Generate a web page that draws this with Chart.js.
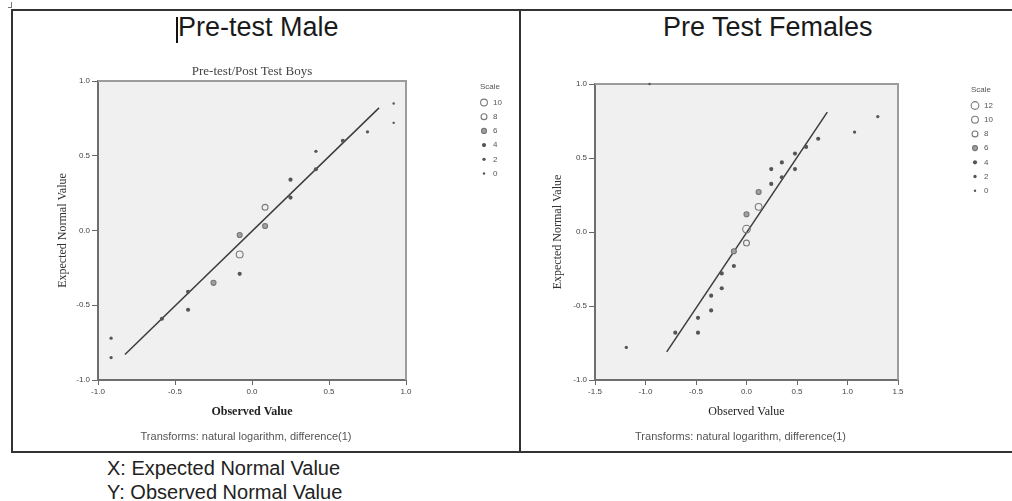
<!DOCTYPE html>
<html>
<head>
<meta charset="utf-8">
<script src="https://cdn.jsdelivr.net/npm/chart.js@4/dist/chart.umd.min.js"></script>
<style>
  html, body { margin: 0; padding: 0; background: #fff; }
  body { width: 1012px; height: 501px; position: relative; overflow: hidden;
         font-family: "Liberation Sans", Arial, sans-serif; color: #222; }
  .abs { position: absolute; }
  #frame { left: 11px; top: 9px; width: 1012px; height: 444px; box-sizing: border-box;
           border: 2px solid #333; border-right: none; }
  #divider { left: 519px; top: 9px; width: 2px; height: 444px; background: #333; }
  .panelTitle { font-size: 27px; line-height: 27px; white-space: nowrap; color: #1a1a1a; top: 14px; }
  .note { font-size: 20px; line-height: 20px; white-space: nowrap; color: #222; left: 107px; }
  canvas { position: absolute; }
</style>
</head>
<body>
<div id="frame" class="abs"></div>
<div id="divider" class="abs"></div>
<div class="abs" style="left:8px;top:7px;width:4px;height:1px;background:#777"></div>
<div class="abs" style="left:11px;top:2px;width:1px;height:6px;background:#777"></div>
<div class="abs" style="left:176px;top:17px;width:2px;height:26px;background:#111"></div>
<div class="abs panelTitle" style="left:178px">Pre-test Male</div>
<div class="abs panelTitle" style="left:663px">Pre Test Females</div>
<div class="abs note" style="top:458px">X: Expected Normal Value</div>
<div class="abs note" style="top:482px">Y: Observed Normal Value</div>

<canvas id="male" width="480" height="402" style="left:38px;top:50px"></canvas>
<canvas id="female" width="487" height="402" style="left:525px;top:50px"></canvas>

<script>
// ---- Pre-test male (boys) ----
const maleObserved = [0.92, 0.92, 0.75, 0.59, 0.415, 0.415, 0.25, 0.25, 0.085, 0.085,
                      -0.08, -0.08, -0.08, -0.25, -0.415, -0.415, -0.585, -0.915, -0.915];
const maleExpected = [0.85, 0.72, 0.66, 0.60, 0.53, 0.41, 0.34, 0.22, 0.155, 0.03,
                      -0.03, -0.16, -0.29, -0.35, -0.41, -0.53, -0.59, -0.72, -0.85];
const maleScale    = [0, 0, 2, 4, 2, 4, 4, 4, 8, 6, 6, 10, 4, 6, 4, 4, 4, 2, 2];
const maleLineX    = [-0.825, 0.825];
const maleLineY    = [-0.83, 0.82];
const maleKey      = [10, 8, 6, 4, 2, 0];
const maleXTicks   = [-1.0, -0.5, 0.0, 0.5, 1.0];

// ---- Pre-test females ----
const femaleObserved = [1.30, 1.07, 0.71, 0.59, 0.48, 0.48, 0.35, 0.35, 0.245, 0.245,
                        0.12, 0.12, 0.0, 0.0, 0.0, -0.125, -0.125, -0.245, -0.245,
                        -0.35, -0.35, -0.48, -0.48, -0.705, -1.19, -0.96];
const femaleExpected = [0.78, 0.675, 0.63, 0.575, 0.53, 0.425, 0.47, 0.37, 0.425, 0.325,
                        0.27, 0.17, 0.12, 0.02, -0.075, -0.13, -0.23, -0.28, -0.38,
                        -0.43, -0.53, -0.58, -0.68, -0.68, -0.78, 1.0];
const femaleScale    = [2, 2, 4, 4, 4, 4, 4, 4, 4, 4, 6, 10, 6, 12, 8, 6, 4, 4, 4,
                        4, 4, 4, 4, 4, 2, 0];
const femaleLineX    = [-0.79, 0.80];
const femaleLineY    = [-0.81, 0.81];
const femaleKey      = [12, 10, 8, 6, 4, 2, 0];
const femaleXTicks   = [-1.5, -1.0, -0.5, 0.0, 0.5, 1.0, 1.5];

const yTicks = [-1.0, -0.5, 0.0, 0.5, 1.0];
const yTitle = 'Expected Normal Value';
const xTitle = 'Observed Value';
const maleCaption = 'Pre-test/Post Test Boys';
const footNote = 'Transforms: natural logarithm, difference(1)';

const SANS = '"Liberation Sans", Arial, sans-serif';
const SERIF = '"Liberation Serif", "Times New Roman", serif';

// marker look for a given scale weight
function markRadius(w) { return 1.2 + w * 0.22; }
function markFill(w) { return w >= 8 ? 'rgba(255,255,255,0)' : (w >= 6 ? '#a0a0a0' : '#555'); }
function markStroke(w) { return w >= 8 ? '#7a7a7a' : (w >= 6 ? '#777' : '#555'); }
function markWidth(w) { return w >= 6 ? 1.1 : 0; }

function drawMark(ctx, x, y, w) {
  ctx.beginPath();
  ctx.arc(x, y, markRadius(w), 0, Math.PI * 2);
  ctx.fillStyle = markFill(w);
  ctx.fill();
  if (markWidth(w) > 0) {
    ctx.lineWidth = markWidth(w);
    ctx.strokeStyle = markStroke(w);
    ctx.stroke();
  }
}

// grey plot background, frame, caption, footnote and scale key
const plotDecor = {
  id: 'plotDecor',
  beforeDraw(chart, args, opts) {
    const a = chart.chartArea, c = chart.ctx;
    c.save();
    c.fillStyle = '#f0f0f0';
    c.fillRect(a.left, a.top, a.right - a.left, a.bottom - a.top);
    c.restore();
  },
  beforeDatasetsDraw(chart) {
    const a = chart.chartArea, c = chart.ctx;
    c.save();
    c.strokeStyle = '#9c9c9c';
    c.lineWidth = 2;
    c.beginPath();
    c.moveTo(a.left, a.top); c.lineTo(a.right, a.top); c.lineTo(a.right, a.bottom);
    c.stroke();
    c.restore();
  },
  afterDraw(chart, args, opts) {
    const a = chart.chartArea, c = chart.ctx;
    const cx = (a.left + a.right) / 2;
    c.save();
    c.textAlign = 'center';
    c.textBaseline = 'middle';
    if (opts.caption) {
      c.font = '13px ' + SERIF;
      c.fillStyle = '#444';
      c.fillText(opts.caption, cx, a.top - 9);
    }
    c.font = '11px ' + SANS;
    c.fillStyle = '#555';
    c.fillText(opts.footnote, cx - 6, a.bottom + 57);
    // scale key
    const kx = a.right + opts.keyOffset;
    c.textAlign = 'left';
    c.font = '8px ' + SANS;
    c.fillStyle = '#555';
    c.fillText('Scale', kx - 4, a.top + 6);
    opts.key.forEach((w, i) => {
      const y = a.top + 21.5 + i * 14.2;
      drawMark(c, kx, y, w);
      c.fillStyle = '#555';
      c.fillText(String(w), kx + 9, y);
    });
    c.restore();
  }
};

function buildChart(id, obs, exp, weights, lineX, lineY, xTicks, opts) {
  const points = obs.map((x, i) => ({ x: x, y: exp[i] }));
  const line = lineX.map((x, i) => ({ x: x, y: lineY[i] }));
  return new Chart(document.getElementById(id), {
    type: 'scatter',
    data: {
      datasets: [
        { type: 'line', data: line, borderColor: '#3c3c3c', borderWidth: 1.5,
          pointRadius: 0, fill: false, order: 2 },
        { data: points, order: 1, clip: false,
          pointRadius: c => markRadius(weights[c.dataIndex]),
          pointBackgroundColor: c => markFill(weights[c.dataIndex]),
          pointBorderColor: c => markStroke(weights[c.dataIndex]),
          pointBorderWidth: c => markWidth(weights[c.dataIndex]) }
      ]
    },
    options: {
      responsive: false, animation: false, devicePixelRatio: 1,
      layout: { padding: { top: opts.padTop, right: opts.padRight, bottom: 0, left: 0 } },
      plugins: {
        legend: { display: false }, tooltip: { enabled: false },
        plotDecor: { caption: opts.caption, footnote: footNote, key: opts.key, keyOffset: opts.keyOffset }
      },
      scales: {
        x: {
          type: 'linear', min: xTicks[0], max: xTicks[xTicks.length - 1],
          afterBuildTicks: s => { s.ticks = xTicks.map(v => ({ value: v })); },
          afterFit: s => { s.height = 72; },
          ticks: { callback: v => v.toFixed(1), font: { family: SANS, size: 8 }, color: '#444',
                   padding: 2, maxRotation: 0, autoSkip: false },
          grid: { drawOnChartArea: false, tickLength: 5, color: '#666' },
          border: { color: '#6e6e6e', width: 2 },
          title: { display: true, text: xTitle, color: '#222',
                   font: { family: SERIF, size: 12, weight: opts.xBold ? 'bold' : 'normal' },
                   padding: { top: 0, bottom: 33 } }
        },
        y: {
          type: 'linear', min: -1, max: 1,
          afterBuildTicks: s => { s.ticks = yTicks.map(v => ({ value: v })); },
          afterFit: s => { s.width = opts.yWidth; },
          ticks: { callback: v => v.toFixed(1), font: { family: SANS, size: 8 }, color: '#444',
                   padding: 2, autoSkip: false },
          grid: { drawOnChartArea: false, tickLength: 6, color: '#666' },
          border: { color: '#6e6e6e', width: 2 },
          title: { display: true, text: yTitle, color: '#333',
                   font: { family: SERIF, size: 12 },
                   padding: { top: opts.yTitlePad, bottom: 0 } }
        }
      }
    },
    plugins: [plotDecor]
  });
}

buildChart('male', maleObserved, maleExpected, maleScale, maleLineX, maleLineY, maleXTicks,
  { padTop: 31, padRight: 112, yWidth: 60, yTitlePad: 17.8, caption: maleCaption,
    key: maleKey, keyOffset: 78, xBold: true });

buildChart('female', femaleObserved, femaleExpected, femaleScale, femaleLineX, femaleLineY, femaleXTicks,
  { padTop: 34, padRight: 114, yWidth: 70, yTitlePad: 25.8, caption: null,
    key: femaleKey, keyOffset: 77, xBold: false });
</script>
</body>
</html>
